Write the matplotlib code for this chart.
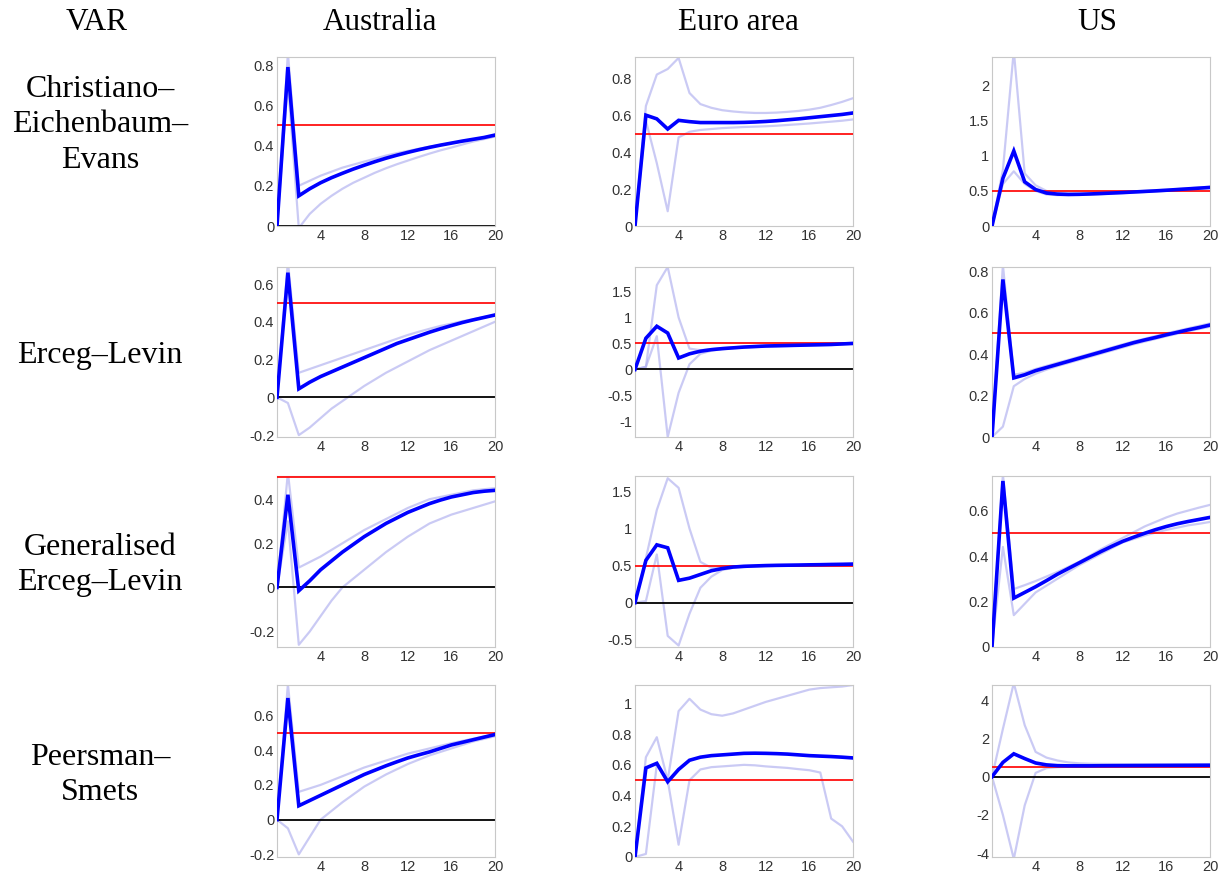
import matplotlib
matplotlib.use("Agg")
import matplotlib.pyplot as plt
from matplotlib.ticker import FormatStrFormatter

# horizons 0..20
h = list(range(21))

col_titles = ["Australia", "Euro area", "US"]
row_titles = ["Christiano–\nEichenbaum–\nEvans", "Erceg–Levin",
              "Generalised\nErceg–Levin", "Peersman–\nSmets"]

# ---- Christiano-Eichenbaum-Evans ----
au_cee = [0, 0.79, 0.15, 0.185, 0.215, 0.24, 0.262, 0.283, 0.302, 0.32, 0.337,
          0.352, 0.366, 0.379, 0.391, 0.402, 0.412, 0.422, 0.431, 0.44, 0.452]
au_cee_hi = [0, 0.86, 0.2, 0.225, 0.25, 0.27, 0.29, 0.305, 0.32, 0.335, 0.35,
             0.362, 0.373, 0.384, 0.394, 0.403, 0.412, 0.42, 0.428, 0.436, 0.445]
au_cee_lo = [0, 0.72, -0.01, 0.06, 0.11, 0.15, 0.185, 0.215, 0.24, 0.265, 0.287,
             0.307, 0.325, 0.343, 0.36, 0.376, 0.39, 0.405, 0.42, 0.432, 0.445]

ea_cee = [0, 0.6, 0.58, 0.525, 0.572, 0.565, 0.56, 0.56, 0.56, 0.56, 0.561,
          0.563, 0.566, 0.57, 0.575, 0.58, 0.586, 0.592, 0.598, 0.604, 0.612]
ea_cee_hi = [0, 0.65, 0.82, 0.85, 0.91, 0.72, 0.66, 0.64, 0.627, 0.62, 0.615,
             0.612, 0.612, 0.614, 0.618, 0.623, 0.63, 0.64, 0.655, 0.672, 0.692]
ea_cee_lo = [0, 0.57, 0.34, 0.08, 0.48, 0.51, 0.52, 0.525, 0.53, 0.533, 0.536,
             0.538, 0.54, 0.543, 0.547, 0.551, 0.555, 0.56, 0.565, 0.57, 0.577]

us_cee = [0, 0.68, 1.07, 0.63, 0.52, 0.47, 0.455, 0.45, 0.452, 0.457, 0.463,
          0.47, 0.477, 0.485, 0.493, 0.501, 0.51, 0.52, 0.53, 0.54, 0.55]
us_cee_hi = [0, 0.8, 2.5, 0.75, 0.58, 0.5, 0.472, 0.462, 0.462, 0.466, 0.471,
             0.478, 0.485, 0.492, 0.5, 0.508, 0.517, 0.527, 0.537, 0.548, 0.56]
us_cee_lo = [0, 0.6, 0.78, 0.6, 0.5, 0.45, 0.44, 0.44, 0.443, 0.448, 0.455,
             0.462, 0.469, 0.477, 0.485, 0.493, 0.502, 0.512, 0.522, 0.532, 0.542]

# ---- Erceg-Levin ----
au_el = [0, 0.66, 0.045, 0.08, 0.11, 0.135, 0.16, 0.185, 0.21, 0.235, 0.26,
         0.285, 0.305, 0.325, 0.345, 0.363, 0.38, 0.396, 0.41, 0.423, 0.436]
au_el_hi = [0, 0.72, 0.13, 0.15, 0.17, 0.19, 0.21, 0.23, 0.25, 0.27, 0.29,
            0.31, 0.33, 0.347, 0.363, 0.378, 0.39, 0.403, 0.414, 0.425, 0.436]
au_el_lo = [0, -0.03, -0.2, -0.16, -0.11, -0.06, -0.02, 0.02, 0.06, 0.095, 0.13,
            0.16, 0.19, 0.22, 0.25, 0.275, 0.3, 0.325, 0.35, 0.375, 0.4]

ea_el = [0, 0.6, 0.83, 0.7, 0.22, 0.3, 0.35, 0.38, 0.4, 0.415, 0.43,
         0.44, 0.45, 0.455, 0.46, 0.465, 0.47, 0.475, 0.48, 0.49, 0.5]
ea_el_hi = [0, 0.05, 1.62, 1.97, 1.0, 0.4, 0.37, 0.39, 0.41, 0.425, 0.44,
            0.45, 0.46, 0.465, 0.47, 0.475, 0.48, 0.485, 0.49, 0.5, 0.51]
ea_el_lo = [0, 0.05, 0.64, -1.3, -0.45, 0.1, 0.3, 0.36, 0.39, 0.405, 0.42,
            0.43, 0.44, 0.445, 0.45, 0.455, 0.46, 0.465, 0.47, 0.48, 0.49]

us_el = [0, 0.76, 0.285, 0.3, 0.32, 0.335, 0.35, 0.365, 0.38, 0.395, 0.41,
         0.425, 0.44, 0.455, 0.468, 0.48, 0.493, 0.505, 0.517, 0.528, 0.54]
us_el_hi = [0, 0.83, 0.3, 0.31, 0.328, 0.343, 0.358, 0.372, 0.387, 0.402, 0.417,
            0.432, 0.447, 0.461, 0.474, 0.487, 0.5, 0.512, 0.524, 0.536, 0.548]
us_el_lo = [0, 0.05, 0.245, 0.28, 0.305, 0.325, 0.342, 0.357, 0.372, 0.387, 0.402,
            0.417, 0.432, 0.447, 0.46, 0.473, 0.486, 0.498, 0.51, 0.521, 0.532]

# ---- Generalised Erceg-Levin ----
au_gel = [0, 0.42, -0.015, 0.03, 0.08, 0.12, 0.16, 0.195, 0.23, 0.26, 0.29,
          0.315, 0.34, 0.36, 0.38, 0.396, 0.41, 0.42, 0.43, 0.436, 0.44]
au_gel_hi = [0, 0.52, 0.09, 0.115, 0.14, 0.17, 0.2, 0.23, 0.26, 0.285, 0.31,
             0.335, 0.36, 0.38, 0.4, 0.41, 0.42, 0.43, 0.44, 0.445, 0.45]
au_gel_lo = [0, 0.3, -0.26, -0.2, -0.13, -0.06, 0.0, 0.04, 0.08, 0.12, 0.16,
             0.195, 0.23, 0.26, 0.29, 0.31, 0.33, 0.345, 0.36, 0.375, 0.39]

ea_gel = [0, 0.57, 0.78, 0.74, 0.3, 0.33, 0.38, 0.43, 0.46, 0.48, 0.49,
          0.495, 0.5, 0.503, 0.505, 0.507, 0.51, 0.512, 0.515, 0.517, 0.52]
ea_gel_hi = [0, 0.6, 1.25, 1.68, 1.55, 1.0, 0.55, 0.47, 0.48, 0.49, 0.495,
             0.5, 0.505, 0.508, 0.51, 0.512, 0.515, 0.517, 0.52, 0.522, 0.525]
ea_gel_lo = [0, 0.02, 0.65, -0.45, -0.58, -0.15, 0.2, 0.35, 0.44, 0.47, 0.48,
             0.488, 0.493, 0.497, 0.5, 0.502, 0.505, 0.507, 0.51, 0.512, 0.515]

us_gel = [0, 0.73, 0.215, 0.24, 0.265, 0.292, 0.32, 0.345, 0.37, 0.395, 0.42,
          0.443, 0.465, 0.483, 0.5, 0.516, 0.53, 0.542, 0.552, 0.561, 0.57]
us_gel_hi = [0, 0.76, 0.255, 0.272, 0.29, 0.31, 0.33, 0.352, 0.375, 0.402, 0.43,
             0.455, 0.48, 0.505, 0.53, 0.55, 0.57, 0.587, 0.6, 0.613, 0.625]
us_gel_lo = [0, 0.44, 0.14, 0.19, 0.24, 0.27, 0.3, 0.33, 0.36, 0.385, 0.41,
             0.435, 0.46, 0.475, 0.49, 0.503, 0.515, 0.525, 0.535, 0.542, 0.55]

# ---- Peersman-Smets ----
au_ps = [0, 0.7, 0.08, 0.11, 0.14, 0.17, 0.2, 0.23, 0.26, 0.285, 0.31,
         0.333, 0.355, 0.373, 0.39, 0.41, 0.43, 0.445, 0.46, 0.475, 0.49]
au_ps_hi = [0, 0.78, 0.16, 0.18, 0.2, 0.225, 0.25, 0.275, 0.3, 0.32, 0.34,
            0.36, 0.38, 0.395, 0.41, 0.425, 0.44, 0.453, 0.466, 0.478, 0.49]
au_ps_lo = [0, -0.05, -0.2, -0.1, 0.0, 0.05, 0.1, 0.145, 0.19, 0.225, 0.26,
            0.29, 0.32, 0.345, 0.37, 0.39, 0.41, 0.43, 0.45, 0.465, 0.48]

ea_ps = [0, 0.58, 0.61, 0.49, 0.57, 0.63, 0.65, 0.66, 0.665, 0.67, 0.675,
         0.676, 0.675, 0.673, 0.67, 0.665, 0.66, 0.657, 0.654, 0.65, 0.645]
ea_ps_hi = [0, 0.65, 0.78, 0.5, 0.95, 1.03, 0.96, 0.93, 0.92, 0.935, 0.96,
            0.985, 1.01, 1.03, 1.05, 1.07, 1.09, 1.1, 1.105, 1.11, 1.12]
ea_ps_lo = [0, 0.02, 0.6, 0.5, 0.08, 0.5, 0.57, 0.585, 0.59, 0.595, 0.6,
            0.597, 0.59, 0.585, 0.58, 0.572, 0.565, 0.55, 0.25, 0.2, 0.1]

us_ps = [0, 0.75, 1.2, 0.95, 0.72, 0.62, 0.58, 0.57, 0.57, 0.57, 0.575,
         0.578, 0.58, 0.583, 0.585, 0.588, 0.59, 0.593, 0.595, 0.598, 0.6]
us_ps_hi = [0, 2.5, 4.9, 2.7, 1.3, 1.0, 0.85, 0.75, 0.7, 0.68, 0.67,
            0.665, 0.66, 0.66, 0.66, 0.66, 0.66, 0.66, 0.66, 0.66, 0.66]
us_ps_lo = [0, -2.0, -4.3, -1.5, 0.2, 0.45, 0.5, 0.52, 0.53, 0.535, 0.54,
            0.542, 0.545, 0.547, 0.55, 0.552, 0.554, 0.556, 0.558, 0.56, 0.562]

series = [
    [(au_cee, au_cee_hi, au_cee_lo), (ea_cee, ea_cee_hi, ea_cee_lo), (us_cee, us_cee_hi, us_cee_lo)],
    [(au_el, au_el_hi, au_el_lo), (ea_el, ea_el_hi, ea_el_lo), (us_el, us_el_hi, us_el_lo)],
    [(au_gel, au_gel_hi, au_gel_lo), (ea_gel, ea_gel_hi, ea_gel_lo), (us_gel, us_gel_hi, us_gel_lo)],
    [(au_ps, au_ps_hi, au_ps_lo), (ea_ps, ea_ps_hi, ea_ps_lo), (us_ps, us_ps_hi, us_ps_lo)],
]

ylims = [
    [(0, 0.84), (0, 0.915), (0, 2.41)],
    [(-0.21, 0.69), (-1.3, 1.97), (0, 0.82)],
    [(-0.27, 0.505), (-0.6, 1.71), (0, 0.752)],
    [(-0.215, 0.775), (0, 1.12), (-4.2, 4.8)],
]
yticks = [
    [[0, 0.2, 0.4, 0.6, 0.8], [0, 0.2, 0.4, 0.6, 0.8], [0, 0.5, 1, 1.5, 2]],
    [[-0.2, 0, 0.2, 0.4, 0.6], [-1, -0.5, 0, 0.5, 1, 1.5], [0, 0.2, 0.4, 0.6, 0.8]],
    [[-0.2, 0, 0.2, 0.4], [-0.5, 0, 0.5, 1, 1.5], [0, 0.2, 0.4, 0.6]],
    [[-0.2, 0, 0.2, 0.4, 0.6], [0, 0.2, 0.4, 0.6, 0.8, 1], [-4, -2, 0, 2, 4]],
]
show_zero = [
    [True, False, False],
    [True, True, False],
    [True, True, False],
    [True, False, True],
]
xticks = [4, 8, 12, 16, 20]
target = 0.5

W, H = 1220, 877
fig = plt.figure(figsize=(W / 100, H / 100), dpi=100)

col_left = [277, 635, 992]
ax_w = 218
row_top = [57, 267, 476, 685]
row_bot = [226, 437, 647, 857]

serif = ["Liberation Serif", "DejaVu Serif"]

for r in range(4):
    for c in range(3):
        x0 = col_left[c] / W
        y0 = 1 - row_bot[r] / H
        ax = fig.add_axes([x0, y0, ax_w / W, (row_bot[r] - row_top[r]) / H])
        main, hi, lo = series[r][c]
        if show_zero[r][c]:
            ax.axhline(0, color="black", lw=1.3, zorder=2)
        ax.axhline(target, color="#ff1010", lw=1.3, zorder=3)
        ax.plot(h, hi, color="#a8a8ee", lw=1.6, alpha=0.6, zorder=1)
        ax.plot(h, lo, color="#a8a8ee", lw=1.6, alpha=0.6, zorder=1)
        ax.plot(h, main, color="#0000ff", lw=2.6, zorder=4, solid_joinstyle="miter")
        ax.set_xlim(0, 20)
        ax.set_ylim(*ylims[r][c])
        ax.set_xticks(xticks)
        ax.set_yticks(yticks[r][c])
        ax.yaxis.set_major_formatter(FormatStrFormatter("%g"))
        ax.tick_params(length=0, labelsize=10.5, colors="#333333", pad=2,
                       labelfontfamily="Liberation Sans")
        for s in ax.spines.values():
            s.set_color("#c8c8c8")
            s.set_linewidth(0.8)

# column headers
fig.text(97 / W, 1 - 22 / H, "VAR", ha="center", va="center", fontsize=22.5, family=serif)
for cx, t in zip([380, 738, 1097], col_titles):
    fig.text(cx / W, 1 - 22 / H, t, ha="center", va="center", fontsize=22.5, family=serif)

# row labels
for cy, t in zip([125, 355, 565, 775], row_titles):
    fig.text(100 / W, 1 - cy / H, t, ha="center", va="center", fontsize=23,
             family=serif, linespacing=1.3, multialignment="center")

fig.savefig("out.png", dpi=100)
